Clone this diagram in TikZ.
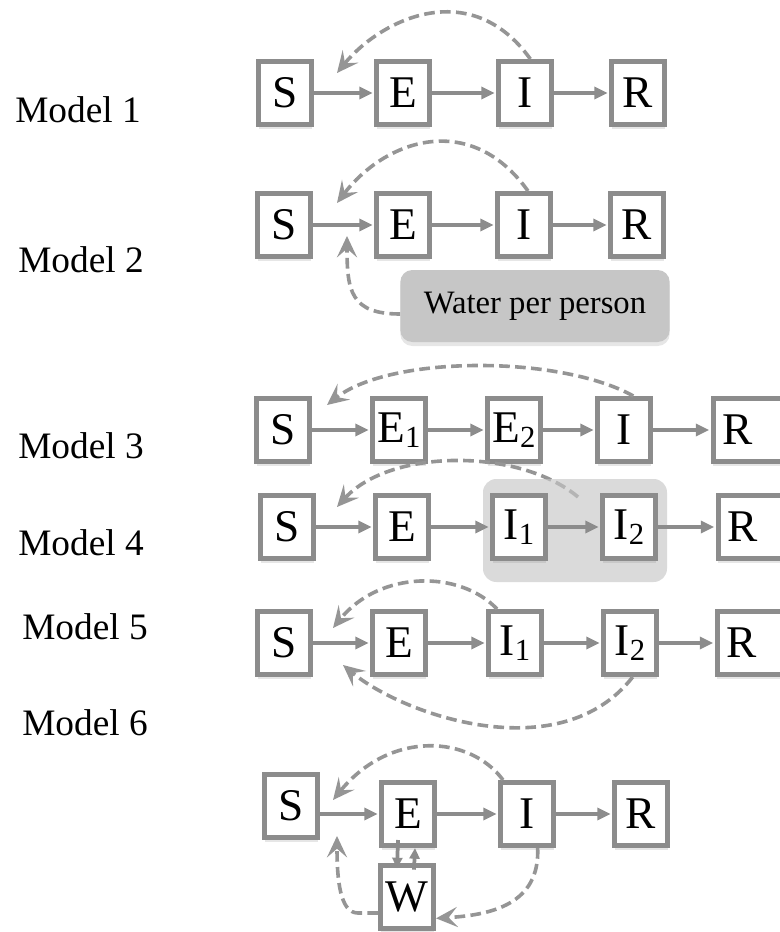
\documentclass[tikz,border=0pt]{standalone}
\usepackage{fontspec}
\setmainfont{Liberation Serif}
\usetikzlibrary{arrows.meta,shadows}
\definecolor{bx}{HTML}{8C8C8C}
\definecolor{dsh}{HTML}{959595}
\definecolor{dshl}{HTML}{B4B4B4}
\definecolor{bub}{HTML}{C6C6C6}
\definecolor{bgshd}{HTML}{DADADA}
\newcommand{\sbs}[1]{\raisebox{-0.12em}{\fontsize{23}{23}\selectfont #1}}
\begin{document}
\begin{tikzpicture}[x=0.75pt,y=-0.75pt,
  box/.style={draw=bx, line width=3.75pt, fill=white, minimum width=39.75pt,
    minimum height=47.25pt, inner sep=0pt, font=\fontsize{34}{34}\selectfont,
    drop shadow={shadow xshift=0pt, shadow yshift=-3pt, opacity=0.2}},
  rbox/.style={box, minimum width=60pt, anchor=west},
  lbl/.style={font=\fontsize{28}{28}\selectfont, inner sep=0pt, anchor=base west},
  flow/.style={draw=bx, line width=3pt, shorten >=1pt, -{Triangle[length=10pt,width=9pt]}},
  flowsm/.style={draw=bx, line width=2.8pt, -{Triangle[length=8pt,width=7.5pt]}},
  fb/.style={draw=dsh, line width=2.7pt, dash pattern=on 8pt off 4pt,
    -{Stealth[length=16pt,width=15pt,inset=6.5pt]}},
]
\useasboundingbox (0,0) rectangle (780,932);

% labels
\node[lbl] (l1) at (15,122) {Model 1};
\node[lbl] (l2) at (18,272) {Model 2};
\node[lbl] (l3) at (18,458) {Model 3};
\node[lbl] (l4) at (18,555) {Model 4};
\node[lbl] (l5) at (22,639) {Model 5};
\node[lbl] (l6) at (22,735) {Model 6};

% Model 1
\node[box] (m1S) at (285,93) {S};
\node[box] (m1E) at (403,93) {E};
\node[box] (m1I) at (525,93) {I};
\node[box] (m1R) at (638,93) {R};
\draw[flow] (m1S) -- (m1E);
\draw[flow] (m1E) -- (m1I);
\draw[flow] (m1I) -- (m1R);
\coordinate (t1) at (337,73);
\draw[fb] ([xshift=4pt]m1I.north) .. controls (470,-25) and (380,20) .. (t1);

% Model 2
\node[box] (m2S) at (284,225) {S};
\node[box] (m2E) at (403,225) {E};
\node[box] (m2I) at (524,225) {I};
\node[box] (m2R) at (637,225) {R};
\draw[flow] (m2S) -- (m2E);
\draw[flow] (m2E) -- (m2I);
\draw[flow] (m2I) -- (m2R);
\coordinate (t2) at (337,203);
\draw[fb] ([xshift=3pt]m2I.north) .. controls (470,110) and (385,140) .. (t2);
\node[fill=bub, rounded corners=9pt, minimum width=202pt, minimum height=54pt,
  font=\fontsize{24.5}{24.5}\selectfont,
  drop shadow={shadow xshift=0pt, shadow yshift=-3pt, opacity=0.2}] (wpp) at (535,306) {Water per person};
\coordinate (t2w) at (347,236);
\draw[fb] ([yshift=-6pt]wpp.west) .. controls (350,314) and (347,290) .. (t2w);

% Model 3
\node[box] (m3S) at (283,430) {S};
\node[box] (m3E1) at (399,430) {E\sbs{1}};
\node[box] (m3E2) at (514,430) {E\sbs{2}};
\node[box] (m3I) at (624,430) {I};
\node[rbox] (m3R) at (710.5,430) {R\hspace*{23pt}};
\draw[flow] (m3S) -- (m3E1);
\draw[flow] (m3E1) -- (m3E2);
\draw[flow] (m3E2) -- (m3I);
\draw[flow] (m3I) -- (m3R);
\coordinate (t3) at (327,405);
\draw[fb] ([xshift=7pt]m3I.north) .. controls (560,355) and (390,355) .. (t3);

% Model 4
\coordinate (s4) at (578,497);
\coordinate (t4) at (337,507);
\draw[fb] (s4) .. controls (520,448) and (390,448) .. (t4);
\fill[bgshd, rounded corners=10pt] (483,479) rectangle (667,582);
\begin{scope}
\clip[rounded corners=10pt] (483,479) rectangle (667,582);
\draw[fb, draw=dshl, -] (s4) .. controls (520,448) and (390,448) .. (t4);
\end{scope}
\node[box] (m4S) at (287,527) {S};
\node[box] (m4E) at (402,527) {E};
\node[box] (m4I1) at (519,527) {I\sbs{1}};
\node[box] (m4I2) at (629,527) {I\sbs{2}};
\node[rbox] (m4R) at (715.5,527) {R\hspace*{23pt}};
\draw[flow] (m4S) -- (m4E);
\draw[flow] (m4E) -- (m4I1);
\draw[flow] (m4I1) -- (m4I2);
\draw[flow] (m4I2) -- (m4R);

% Model 5
\node[box] (m5S) at (284,643) {S};
\node[box] (m5E) at (399,643) {E};
\node[box] (m5I1) at (515,643) {I\sbs{1}};
\node[box] (m5I2) at (630,643) {I\sbs{2}};
\node[rbox] (m5R) at (714.5,643) {R\hspace*{23pt}};
\draw[flow] (m5S) -- (m5E);
\draw[flow] (m5E) -- (m5I1);
\draw[flow] (m5I1) -- (m5I2);
\draw[flow] (m5I2) -- (m5R);
\coordinate (t5a) at (333,628);
\coordinate (t5b) at (343,665);
\draw[fb] ([xshift=-13.5pt]m5I1.north) .. controls (460,570) and (380,570) .. (t5a);
\draw[fb] ([xshift=2pt]m5I2.south) .. controls (560,770) and (403,715) .. (t5b);

% Model 6
\node[box] (m6S) at (291,806) {S};
\node[box] (m6E) at (408,814) {E};
\node[box] (m6I) at (527,814) {I};
\node[box] (m6R) at (641,814) {R};
\node[box] (m6W) at (407,897) {W};
\draw[flow] (m6S.east |- m6E.west) -- (m6E.west);
\draw[flow] (m6E) -- (m6I);
\draw[flow] (m6I) -- (m6R);
\draw[flowsm] ([xshift=-7.5pt,yshift=6pt]m6E.south) -- ([xshift=-7.5pt,yshift=-4pt]m6W.north);
\draw[flowsm] ([xshift=5.25pt,yshift=-5pt]m6W.north) -- ([xshift=5.25pt]m6E.south);
\coordinate (t6) at (333,800);
\coordinate (t6b) at (337,836);
\coordinate (c6) at (358,913);
\draw[fb] ([xshift=-18pt]m6I.north) .. controls (470,735) and (390,730) .. (t6);
\draw[fb] ([xshift=8pt]m6I.south) .. controls (540,905) and (490,915) .. ([yshift=-16pt]m6W.east);
\draw[fb] ([yshift=-12pt]m6W.west) -- (c6) .. controls (340,913) and (337,880) .. (t6b);
\end{tikzpicture}
\end{document}
